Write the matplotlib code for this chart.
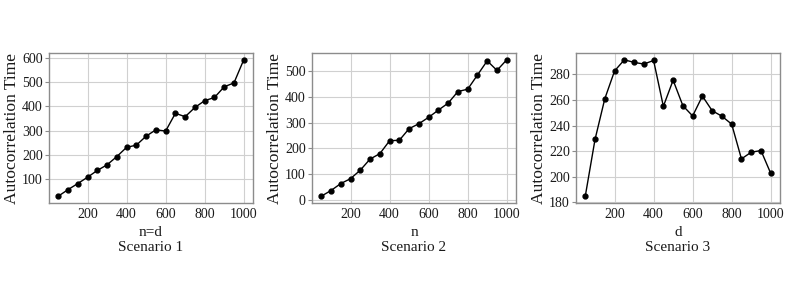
import matplotlib
matplotlib.use("Agg")
import matplotlib.pyplot as plt

x_vals = [50, 100, 150, 200, 250, 300, 350, 400, 450, 500,
          550, 600, 650, 700, 750, 800, 850, 900, 950, 1000]
scen1 = [30, 57, 82, 108, 136, 159, 193, 231, 240, 277,
         303, 298, 371, 357, 395, 423, 436, 480, 496, 591]
scen2 = [15, 37, 64, 83, 116, 159, 180, 230, 232, 277,
         296, 321, 349, 376, 421, 430, 485, 540, 503, 544]
scen3 = [184.9, 229.2, 260.9, 282.6, 291.3, 289.3, 288.0, 290.8, 255.0, 275.4,
         255.5, 247.5, 263.0, 251.6, 247.3, 241.1, 214.0, 219.2, 220.5, 202.7]
xticks = [200, 400, 600, 800, 1000]
yticks1 = [100, 200, 300, 400, 500, 600]
yticks2 = [0, 100, 200, 300, 400, 500]
yticks3 = [180, 200, 220, 240, 260, 280]
xlabels = ["n=d", "n", "d"]
titles = ["Scenario 1", "Scenario 2", "Scenario 3"]
ylabel = "Autocorrelation Time"

plt.rcParams['font.family'] = ['Liberation Serif', 'DejaVu Serif']

fig = plt.figure(figsize=(7.91, 2.84), dpi=100)
lefts = [49/791, 312/791, 576/791]
w = 204/791
b = (284-203)/284
h = 150/284

for left, ys, yt, xl, tt in zip(lefts, [scen1, scen2, scen3],
                                [yticks1, yticks2, yticks3], xlabels, titles):
    ax = fig.add_axes([left, b, w, h])
    ax.plot(x_vals, ys, color='black', lw=1.0, marker='o', markersize=3.5)
    ax.grid(True, color='#d0d0d0', lw=0.8)
    ax.set_axisbelow(True)
    for s in ax.spines.values():
        s.set_color('#8c8c8c')
        s.set_linewidth(1.0)
    ax.tick_params(axis='x', length=0, labelsize=10, pad=3.5, colors='#1a1a1a')
    ax.tick_params(axis='y', length=3, width=0.8, color='#8c8c8c',
                   labelsize=10, pad=1.5, labelcolor='#1a1a1a')
    ax.set_xticks(xticks)
    ax.set_yticks(yt)
    ax.set_xlabel(xl + "\n" + tt, fontsize=11, linespacing=1.2, labelpad=3.5, color='#1a1a1a')
    ax.set_ylabel(ylabel, fontsize=12.6, labelpad=1.5, color='#1a1a1a')

fig.savefig("out.png", dpi=100)
